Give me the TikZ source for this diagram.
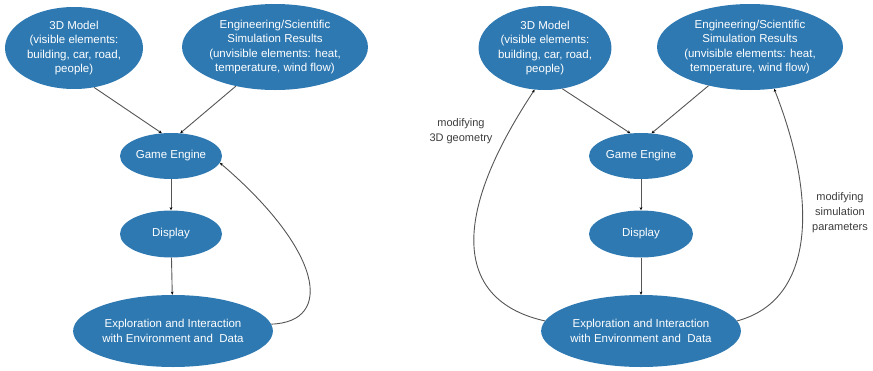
\documentclass[tikz,border=0pt]{standalone}
\usepackage{fontspec}
\setmainfont{Liberation Sans}
\usetikzlibrary{shapes.geometric,arrows.meta}
\definecolor{nodeblue}{RGB}{46,121,178}
\definecolor{linegray}{RGB}{85,85,85}
\definecolor{labelgray}{RGB}{60,60,60}
\tikzset{
  blob/.style={ellipse, fill=nodeblue, text=white, inner sep=0pt, align=center,
    font=\fontsize{11.5}{14.5}\selectfont},
  arr/.style={draw=linegray, line width=0.9pt,
    -{Stealth[length=3.2pt,width=2.8pt,color=black]}},
  lbl/.style={text=labelgray, align=center, inner sep=0pt,
    font=\fontsize{11}{15}\selectfont},
}
\begin{document}
\begin{tikzpicture}[x=1pt,y=-1pt]
\useasboundingbox (0,0) rectangle (873,370);
% ---------- left diagram ----------
\node[blob, minimum width=138pt, minimum height=82pt] (L3D) at (74,48)
  {3D Model\\(visible elements:\\building, car, road,\\people)};
\node[blob, minimum width=182pt, minimum height=86pt] (LEng) at (275,47)
  {Engineering/Scientific\\Simulation Results\\(unvisible elements: heat,\\temperature, wind flow)};
\node[blob, minimum width=102pt, minimum height=46pt] (LGE) at (171,156) {Game Engine};
\node[blob, minimum width=102pt, minimum height=47pt] (LDisp) at (171,234) {Display};
\node[blob, minimum width=184pt, minimum height=72pt] (LExp) at (173,331)
  {Exploration and Interaction\\with Environment and~~Data};
\draw[arr] (L3D.-63) -- (LGE.112);
\draw[arr] (LEng.-135) -- (LGE.68);
\draw[arr] (LGE) -- (LDisp);
\draw[arr] (LDisp) -- (LExp);
\draw[arr] (LExp.4) .. controls (335,322) and (322,250) .. (LGE.-8);
% ---------- right diagram ----------
\node[blob, minimum width=132pt, minimum height=84pt] (R3D) at (545,48)
  {3D Model\\(visible elements:\\building, car, road,\\people)};
\node[blob, minimum width=182pt, minimum height=86pt] (REng) at (750,47)
  {Engineering/Scientific\\Simulation Results\\(unvisible elements: heat,\\temperature, wind flow)};
\node[blob, minimum width=104pt, minimum height=46pt] (RGE) at (641,156) {Game Engine};
\node[blob, minimum width=104pt, minimum height=47pt] (RDisp) at (641,234) {Display};
\node[blob, minimum width=186pt, minimum height=72pt] (RExp) at (641,331)
  {Exploration and Interaction\\with Environment and~~Data};
\draw[arr] (R3D.-67) -- (RGE.115);
\draw[arr] (REng.-137) -- (RGE.65);
\draw[arr] (RGE) -- (RDisp);
\draw[arr] (RDisp) -- (RExp);
\draw[arr] (RExp.174) .. controls (460,302) and (445,225) .. (R3D.-104);
\draw[arr] (RExp.6) .. controls (815,300) and (818,200) .. (REng.-60);
\node[lbl] (labL) at (461,131) {modifying\\3D geometry};
\node[lbl] (labR) at (840,213) {modifying\\simulation\\parameters};
\end{tikzpicture}
\end{document}
